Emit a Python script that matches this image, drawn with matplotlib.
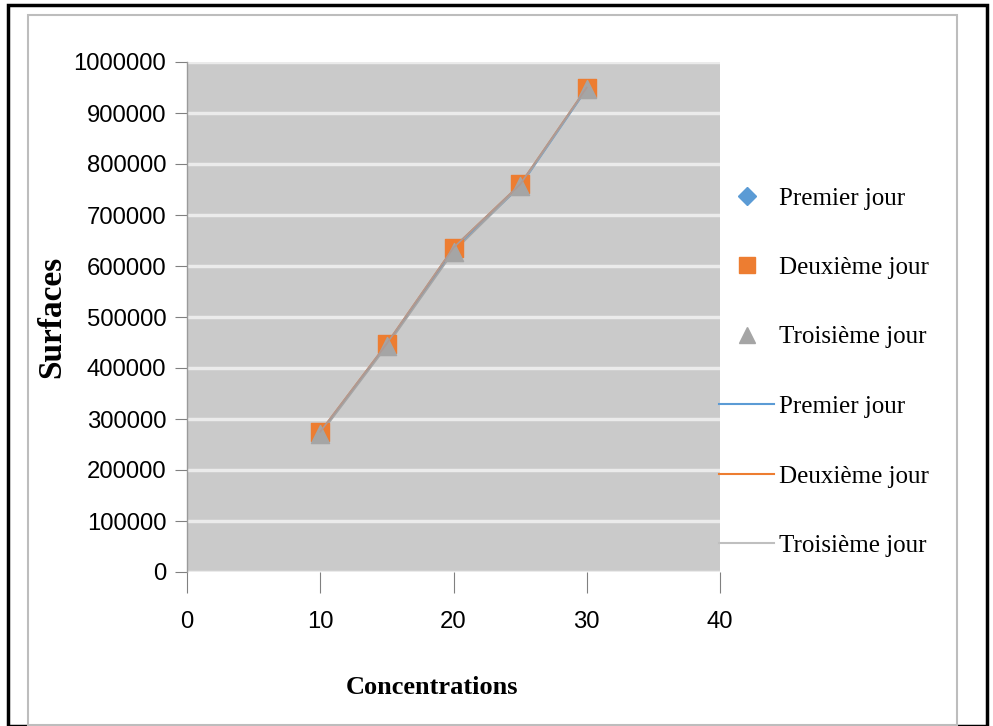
import matplotlib.pyplot as plt
from matplotlib import font_manager
from matplotlib.patches import Rectangle
from matplotlib.lines import Line2D

# data
concentrations = [10, 15, 20, 25, 30]
premier_jour = [272000, 446000, 631000, 756000, 947000]
deuxieme_jour = [275000, 448000, 636000, 760000, 950000]
troisieme_jour = [270000, 443000, 628000, 757000, 948000]
y_ticks = [0, 100000, 200000, 300000, 400000, 500000, 600000, 700000, 800000, 900000, 1000000]
x_ticks = [0, 10, 20, 30, 40]

blue = '#5B9BD5'
orange = '#ED7D31'
grey = '#A5A5A5'

installed = {f.name for f in font_manager.fontManager.ttflist}
if 'Liberation Sans Narrow' in installed:
    tick_font, tick_size = ['Liberation Sans Narrow'], 20
else:
    tick_font, tick_size = ['Liberation Sans', 'DejaVu Sans'], 17.2
serif = ['Liberation Serif', 'DejaVu Serif']

W, H = 993, 726
fig = plt.figure(figsize=(W / 100, H / 100), dpi=100)

# frames round the chart
fig.patches.append(Rectangle((8 / W, 0), 979 / W, (H - 5) / H, transform=fig.transFigure,
                             fill=False, edgecolor='black', linewidth=2.5))
fig.patches.append(Rectangle((28 / W, 1 / H), 929 / W, (H - 16) / H, transform=fig.transFigure,
                             fill=False, edgecolor='#BDBDBD', linewidth=1.5))

ax = fig.add_axes([187 / W, (H - 572) / H, 533 / W, 510 / H])
ax.set_facecolor('#CACACA')

ax.plot(concentrations, premier_jour, color=blue, linewidth=1.2, zorder=2)
ax.plot(concentrations, deuxieme_jour, color=orange, linewidth=1.2, zorder=2)
ax.plot(concentrations, troisieme_jour, color=grey, linewidth=1.2, zorder=2)
ax.scatter(concentrations, premier_jour, marker='D', s=70, color=blue, zorder=3)
ax.scatter(concentrations, deuxieme_jour, marker='s', s=170, color=orange, zorder=4)
ax.scatter(concentrations, troisieme_jour, marker='^', s=170, color=grey, zorder=5)
ax.plot(concentrations, deuxieme_jour, color='#AC9A96', linewidth=1.2, zorder=6)

ax.set_xlim(0, 40)
ax.set_ylim(0, 1000000)
ax.set_xticks(x_ticks)
ax.set_yticks(y_ticks)
ax.set_yticklabels([str(v) for v in y_ticks], family=tick_font, fontsize=tick_size)
ax.set_xticklabels([str(v) for v in x_ticks], family=tick_font, fontsize=tick_size)
ax.grid(axis='y', color='#EBEBEB', linewidth=2.5)
ax.set_axisbelow(True)
ax.tick_params(axis='y', length=9, color='#808080', pad=6)
ax.tick_params(axis='x', length=15, color='#808080', pad=13)
for side in ['top', 'right', 'bottom']:
    ax.spines[side].set_visible(False)
ax.spines['left'].set_color('#9A9A9A')
ax.spines['left'].set_linewidth(1)

fig.text(432 / W, 1 - 688 / H, 'Concentrations', family=serif, fontsize=19,
         fontweight='bold', ha='center', va='center')
fig.text(52 / W, 1 - 317 / H, 'Surfaces', family=serif, fontsize=24, fontweight='bold',
         rotation=90, ha='center', va='center')

handles = [
    Line2D([], [], linestyle='none', marker='D', color=blue, markersize=9),
    Line2D([], [], linestyle='none', marker='s', color=orange, markersize=12),
    Line2D([], [], linestyle='none', marker='^', color=grey, markersize=12),
    Line2D([], [], color=blue, linewidth=1.5),
    Line2D([], [], color=orange, linewidth=1.5),
    Line2D([], [], color='#BFBFBF', linewidth=1.5),
]
labels = ['Premier jour', 'Deuxième jour', 'Troisième jour',
          'Premier jour', 'Deuxième jour', 'Troisième jour']
fig.legend(handles, labels, loc='center left', bbox_to_anchor=(719 / W, 1 - 372 / H),
           frameon=False, prop={'family': serif, 'size': 18}, handlelength=2.2,
           handletextpad=0.2, labelspacing=1.88, borderaxespad=0, borderpad=0)

fig.savefig('out.png', dpi=100)
